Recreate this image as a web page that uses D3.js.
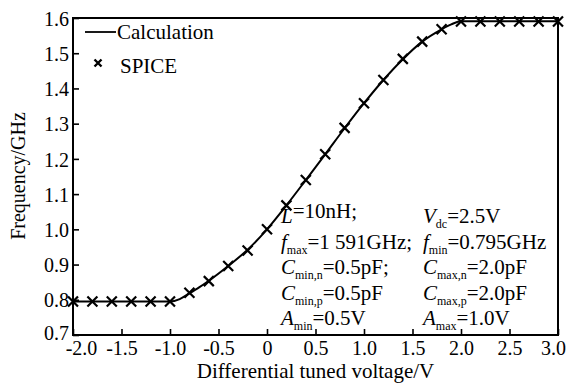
<!DOCTYPE html>
<html>
<head>
<meta charset="utf-8">
<script src="https://cdn.jsdelivr.net/npm/d3@7"></script>
<style>
  body { margin: 0; background: #fff; }
  svg { display: block; font-family: "Liberation Serif", "Times New Roman", serif; }
</style>
</head>
<body>
<div id="container"></div>
<script>
/* CONSTANTS AND GLOBALS */
const width = 580,
  height = 383,
  margin = { top: 18, bottom: 48, left: 73, right: 22 };

/* DATA */
// calculation curve
const calcX = [-2.0, -1.0, -0.9, -0.8, -0.7, -0.6, -0.4, -0.2, 0, 0.2, 0.4, 0.6, 0.8, 1.0, 1.2, 1.4, 1.6, 1.8, 1.9, 2.0, 3.0];
const calcY = [0.795, 0.795, 0.802, 0.818, 0.835, 0.854, 0.896, 0.942, 1.000, 1.068, 1.140, 1.213, 1.287, 1.358, 1.424, 1.483, 1.533, 1.568, 1.582, 1.591, 1.591];
// SPICE points
const spiceX = [-2.0, -1.8, -1.6, -1.4, -1.2, -1.0, -0.8, -0.6, -0.4, -0.2, 0, 0.2, 0.4, 0.6, 0.8, 1.0, 1.2, 1.4, 1.6, 1.8, 2.0, 2.2, 2.4, 2.6, 2.8, 3.0];
const spiceY = [0.795, 0.795, 0.795, 0.795, 0.795, 0.795, 0.820, 0.853, 0.896, 0.940, 1.000, 1.068, 1.140, 1.213, 1.288, 1.358, 1.424, 1.484, 1.533, 1.568, 1.590, 1.590, 1.590, 1.590, 1.590, 1.590];
// ticks
const xTicks = [-2.0, -1.5, -1.0, -0.5, 0, 0.5, 1.0, 1.5, 2.0, 2.5, 3.0];
const xTickLabels = ["-2.0", "-1.5", "-1.0", "-0.5", "0", "0.5", "1.0", "1.5", "2.0", "2.5", "3.0"];
const yTicks = [0.7, 0.8, 0.9, 1.0, 1.1, 1.2, 1.3, 1.4, 1.5, 1.6];
// annotation rows: [symbol, subscript, rest]
const noteLeft = [
  ["L", "", "=10nH;"],
  ["f", "max", "=1 591GHz;"],
  ["C", "min,n", "=0.5pF;"],
  ["C", "min,p", "=0.5pF"],
  ["A", "min", "=0.5V"]
];
const noteRight = [
  ["V", "dc", "=2.5V"],
  ["f", "min", "=0.795GHz"],
  ["C", "max,n", "=2.0pF"],
  ["C", "max,p", "=2.0pF"],
  ["A", "max", "=1.0V"]
];

const calc = calcX.map((x, i) => ({ x: x, y: calcY[i] }));
const spice = spiceX.map((x, i) => ({ x: x, y: spiceY[i] }));

/* SCALES */
const xScale = d3.scaleLinear()
  .domain([-2, 3])
  .range([margin.left, width - margin.right]);

const yScale = d3.scaleLinear()
  .domain([0.7, 1.6])
  .range([height - margin.bottom, margin.top]);

/* HTML ELEMENTS */
const svg = d3.select("#container")
  .append("svg")
  .attr("width", width)
  .attr("height", height);

// axes (ticks point inward)
const xAxis = d3.axisBottom(xScale)
  .tickValues(xTicks)
  .tickSize(-6)
  .tickPadding(6)
  .tickFormat((d, i) => xTickLabels[i]);
const gx = svg.append("g")
  .attr("transform", `translate(0,${height - margin.bottom})`)
  .call(xAxis);

const yAxis = d3.axisLeft(yScale)
  .tickValues(yTicks)
  .tickSize(-6)
  .tickPadding(4)
  .tickFormat(d3.format(".1f"));
const gy = svg.append("g")
  .attr("transform", `translate(${margin.left},0)`)
  .call(yAxis);

[gx, gy].forEach(g => {
  g.select(".domain").remove();
  g.selectAll("line").attr("stroke", "#000").attr("stroke-width", 1.6);
  g.selectAll("text")
    .attr("fill", "#000")
    .style("font-family", "'Liberation Serif', serif")
    .style("font-size", "20px");
});
gy.selectAll("text").attr("dy", (d, i) => i === 0 ? "0.2em" : "0.36em");
// end labels pulled inward, as in the original
gx.selectAll("text")
  .attr("dx", (d, i) => i === 0 ? 8 : (i === xTicks.length - 1 ? -5 : 0));

// frame
svg.append("rect")
  .attr("x", margin.left)
  .attr("y", margin.top)
  .attr("width", width - margin.left - margin.right)
  .attr("height", height - margin.top - margin.bottom)
  .attr("fill", "none")
  .attr("stroke", "#000")
  .attr("stroke-width", 2);

// calculation line
const line = d3.line()
  .x(d => xScale(d.x))
  .y(d => yScale(d.y))
  .curve(d3.curveMonotoneX);

svg.append("path")
  .datum(calc)
  .attr("d", line)
  .attr("fill", "none")
  .attr("stroke", "#000")
  .attr("stroke-width", 2);

// SPICE crosses
const s = 5;
svg.selectAll(".spice")
  .data(spice)
  .join("path")
  .attr("class", "spice")
  .attr("d", d => {
    const cx = xScale(d.x), cy = yScale(d.y);
    return `M${cx - s},${cy - s}L${cx + s},${cy + s}M${cx - s},${cy + s}L${cx + s},${cy - s}`;
  })
  .attr("stroke", "#000")
  .attr("stroke-width", 2.2)
  .attr("fill", "none");

// legend
svg.append("line")
  .attr("x1", 85).attr("x2", 116)
  .attr("y1", 32).attr("y2", 32)
  .attr("stroke", "#000")
  .attr("stroke-width", 1.8);
svg.append("text")
  .attr("x", 117).attr("y", 39)
  .style("font-size", "21px")
  .text("Calculation");
svg.append("path")
  .attr("d", "M94.5,59.5L101.5,66.5M94.5,66.5L101.5,59.5")
  .attr("stroke", "#000")
  .attr("stroke-width", 2.4);
svg.append("text")
  .attr("x", 120).attr("y", 73)
  .style("font-size", "21px")
  .text("SPICE");

// axis labels
svg.append("text")
  .attr("x", xScale(0.5))
  .attr("y", 378)
  .attr("text-anchor", "middle")
  .style("font-size", "21px")
  .text("Differential tuned voltage/V");

svg.append("text")
  .attr("transform", "translate(25,176) rotate(-90)")
  .attr("text-anchor", "middle")
  .style("font-size", "20px")
  .text("Frequency/GHz");

// parameter notes
function note(rows, x0) {
  rows.forEach((r, i) => {
    const t = svg.append("text")
      .attr("x", x0)
      .attr("y", 223 + i * 25.5)
      .style("font-size", "21px");
    t.append("tspan").style("font-style", "italic").text(r[0]);
    t.append("tspan").attr("dy", 5).style("font-size", "12px").text(r[1]);
    t.append("tspan").attr("dy", -5).text(r[2]);
  });
}
note(noteLeft, 281);
note(noteRight, 423);
</script>
</body>
</html>
